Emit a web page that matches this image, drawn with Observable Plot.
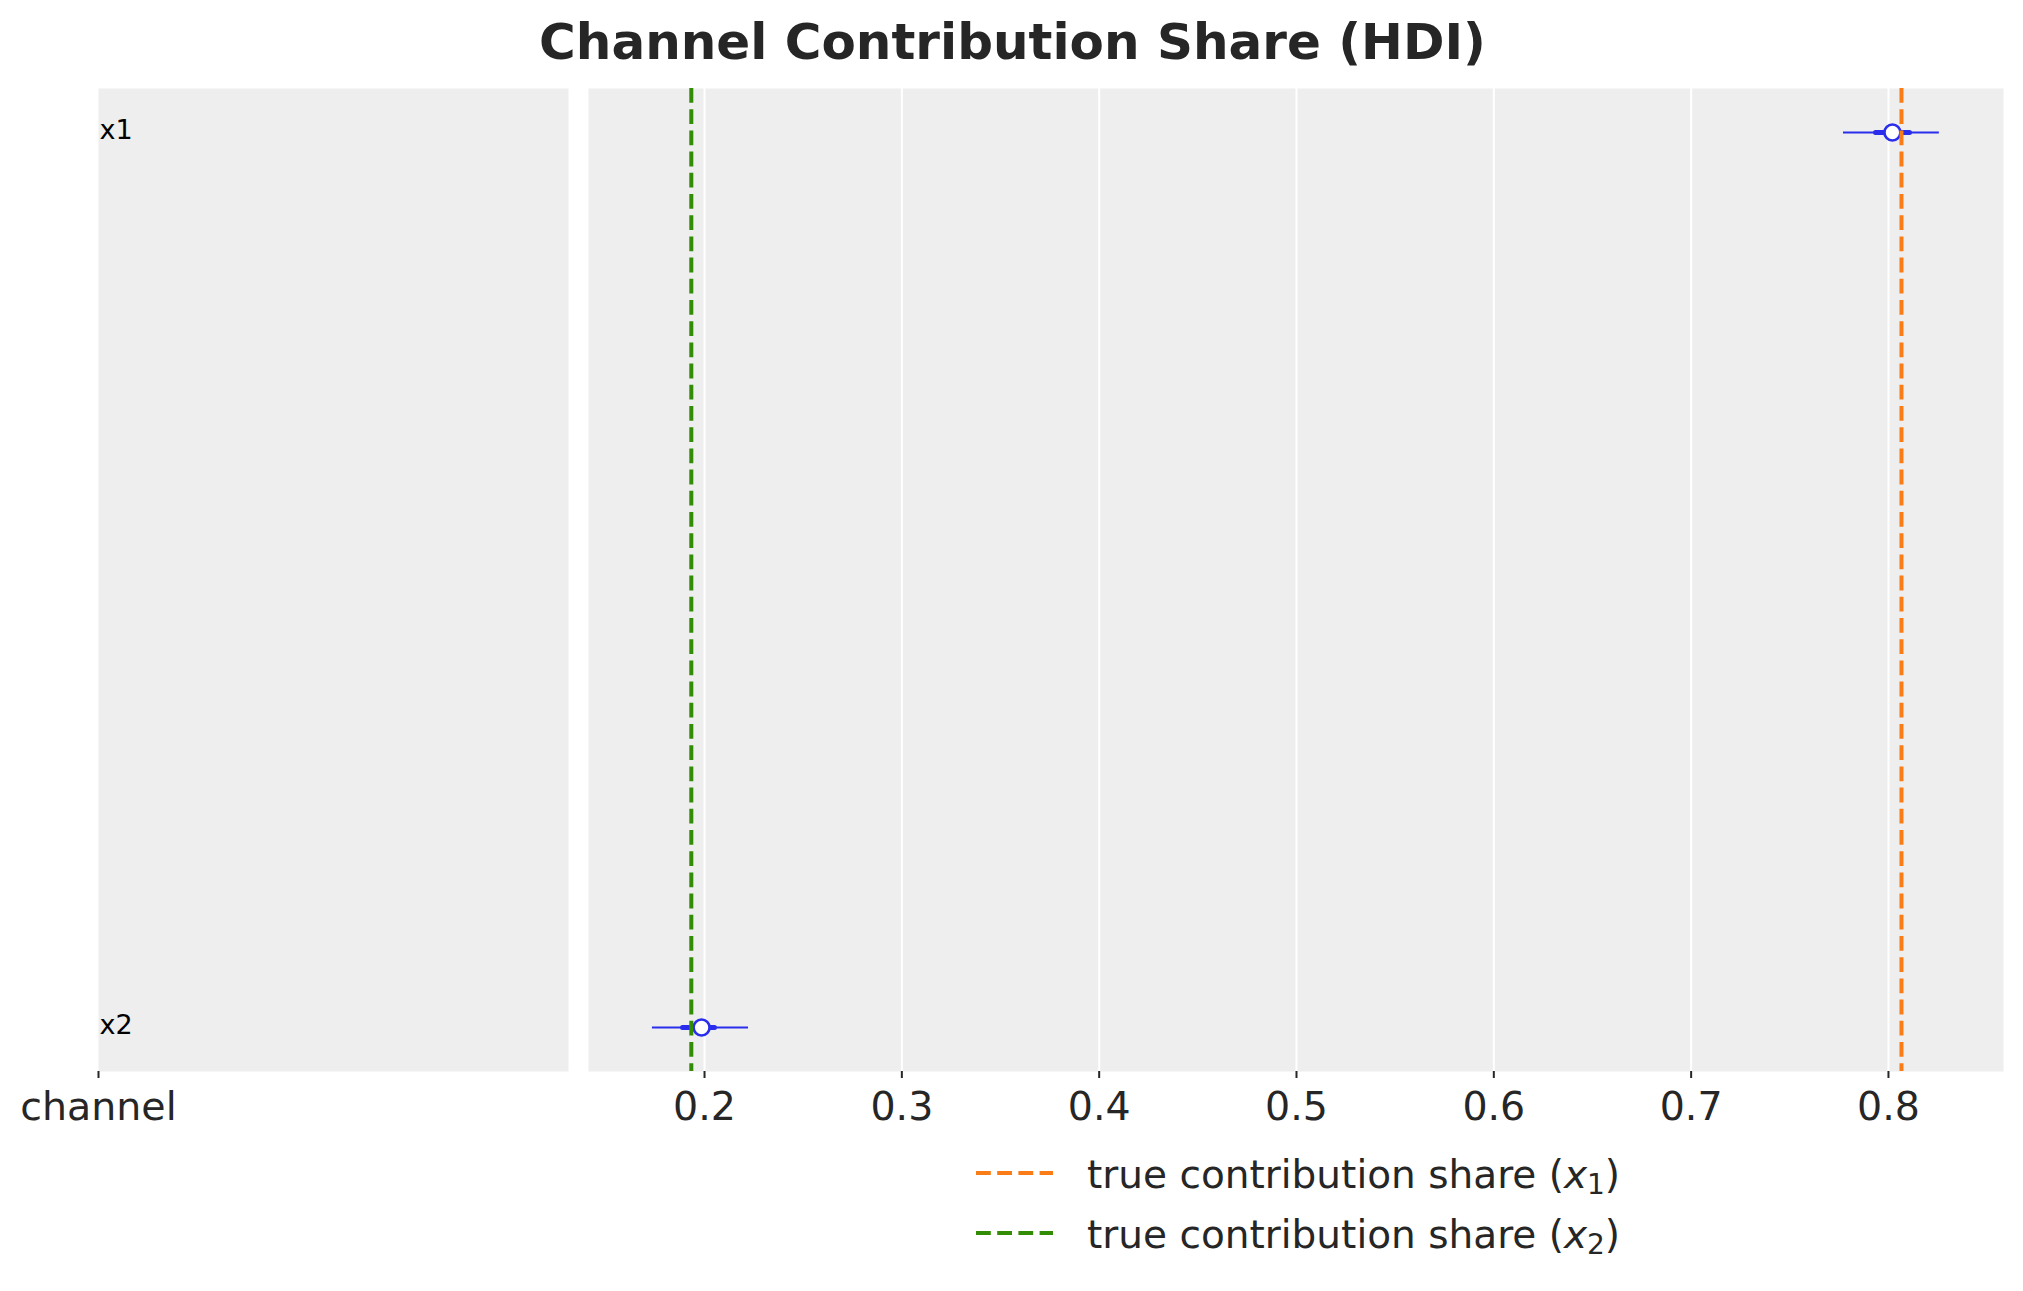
<!DOCTYPE html>
<html>
<head>
<meta charset="utf-8">
<script src="https://cdn.jsdelivr.net/npm/d3@7"></script>
<script src="https://cdn.jsdelivr.net/npm/@observablehq/plot@0.6"></script>
<style>
  html, body { margin: 0; padding: 0; background: white; }
  #fig { position: relative; width: 2023px; height: 1291px; font-family: "DejaVu Sans", sans-serif; color: #262626; overflow: hidden; }
  #title { position: absolute; left: 0; top: 12px; width: 2025px; text-align: center; font-weight: bold; font-size: 50px; line-height: 60px; color: #262626; }
  .panel { position: absolute; top: 88px; }
  .panel svg { max-width: none; }
  .legtext { position: absolute; left: 1087px; font-size: 39px; line-height: 50px; color: #262626; white-space: nowrap; }
  .legtext sub { font-size: 28px; vertical-align: -6px; line-height: 0; }
  .legsw { position: absolute; left: 976px; }
</style>
</head>
<body>
<div id="fig">
  <div id="title">Channel Contribution Share (HDI)</div>
  <div id="left" class="panel" style="left:0px"></div>
  <div id="right" class="panel" style="left:588px"></div>
  <div id="legend"></div>
</div>
<script>
// ---- data ----
const channels = ["x1", "x2"];
const meanShare = [0.802, 0.1985];
const hdiLow = [0.7772, 0.1736];
const hdiHigh = [0.8258, 0.2223];
const iqrLow = [0.7937, 0.1891];
const iqrHigh = [0.8109, 0.2053];
const trueShare = [0.8066, 0.1933];
const xTicks = [0.2, 0.3, 0.4, 0.5, 0.6, 0.7, 0.8];
const legendLabels = ["1", "2"];

const blue = "#2a2eec", orange = "#fa7c17", green = "#328c06";
const trueColors = [orange, green];
const panelBg = "#eeeeee";
const dash = "14.8,6.4";

const rows = channels.map((c, i) => ({
  channel: c, mean: meanShare[i], lo: hdiLow[i], hi: hdiHigh[i], qlo: iqrLow[i], qhi: iqrHigh[i]
}));
const trueRows = trueShare.map((v, i) => ({value: v, color: trueColors[i]}));

const common = {
  height: 1043, marginTop: 0, marginBottom: 60,
  style: {fontFamily: "DejaVu Sans", background: "transparent", color: "#262626", overflow: "visible"},
  y: {type: "point", domain: channels, range: [44, 939], padding: 0, axis: null}
};

// left panel (channel labels)
const leftPlot = Plot.plot({
  ...common,
  width: 588, marginLeft: 98, marginRight: 20,
  x: {domain: [0, 1], axis: null},
  marks: [
    Plot.frame({fill: panelBg, stroke: "none"}),
    Plot.text(channels, {y: d => d, text: d => d, frameAnchor: "left", textAnchor: "start", dx: 1, dy: -2, fontSize: 27, fill: "black"}),
    Plot.axisX([0], {tickFormat: () => "channel", tickSize: 7, tickPadding: 13, fontSize: 39.5, fill: "#262626", stroke: "#262626", strokeWidth: 2})
  ]
});
document.getElementById("left").appendChild(leftPlot);

// right panel (forest plot)
const rightPlot = Plot.plot({
  ...common,
  width: 1435, marginLeft: 0, marginRight: 20,
  x: {domain: [0.1412, 0.8583], axis: null},
  marks: [
    Plot.frame({fill: panelBg, stroke: "none"}),
    Plot.ruleX(xTicks, {stroke: "white", strokeWidth: 2}),
    Plot.ruleY(rows, {y: "channel", x1: "lo", x2: "hi", stroke: blue, strokeWidth: 2}),
    Plot.ruleY(rows, {y: "channel", x1: "qlo", x2: "qhi", stroke: blue, strokeWidth: 5, strokeLinecap: "round"}),
    Plot.dot(rows, {x: "mean", y: "channel", r: 8, fill: "white", stroke: blue, strokeWidth: 2.7}),
    Plot.ruleX(trueRows, {x: "value", stroke: "color", strokeWidth: 4, strokeDasharray: dash}),
    Plot.axisX(xTicks, {tickFormat: d => d.toFixed(1), tickSize: 7, tickPadding: 13, fontSize: 39.5, fill: "#262626", stroke: "#262626", strokeWidth: 2})
  ]
});
document.getElementById("right").appendChild(rightPlot);

// legend below
const legend = d3.select("#legend");
trueColors.forEach((col, i) => {
  const lineY = 1173 + i * 60;
  const sw = legend.append("svg").attr("class", "legsw")
    .attr("width", 80).attr("height", 10)
    .style("top", (lineY - 5) + "px");
  sw.append("line").attr("x1", 0).attr("x2", 77).attr("y1", 5).attr("y2", 5)
    .attr("stroke", col).attr("stroke-width", 4).attr("stroke-dasharray", dash);
  const t = legend.append("div").attr("class", "legtext").style("top", (1150 + i * 60) + "px");
  t.html(`true contribution share (<i>x</i><sub>${legendLabels[i]}</sub>)`);
});
</script>
</body>
</html>
